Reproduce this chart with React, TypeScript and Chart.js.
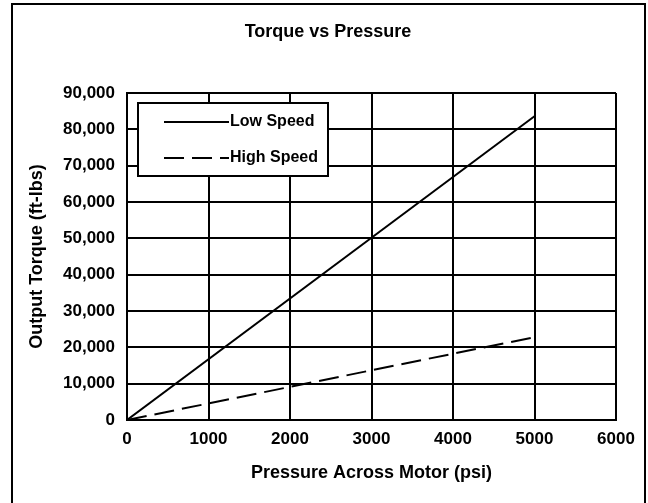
import React, { useEffect, useRef } from "react";
import { Chart, registerables } from "chart.js";

Chart.register(...registerables);

const chartTitle = "Torque vs Pressure";
const xAxisTitle = "Pressure Across Motor (psi)";
const yAxisTitle = "Output Torque (ft-lbs)";
const seriesNames = ["Low Speed", "High Speed"];
const pressurePsi = [0, 5000];
const lowSpeedTorque = [0, 83600];
const highSpeedTorque = [0, 22800];
const xTickMin = 0;
const xTickMax = 6000;
const xTickStep = 1000;
const yTickMin = 0;
const yTickMax = 90000;
const yTickStep = 10000;

const FONT_FAMILY = '"Liberation Sans", Arial, sans-serif';

const decorPlugin = {
  id: "decor",
  afterDraw(chart: any) {
    const ctx = chart.ctx as CanvasRenderingContext2D;
    const a = chart.chartArea;
    ctx.save();
    // outer frame
    ctx.strokeStyle = "#000";
    ctx.lineWidth = 2;
    ctx.setLineDash([]);
    ctx.strokeRect(12, 4, 633, 530);
    // title
    ctx.fillStyle = "#000";
    ctx.font = `bold 18px ${FONT_FAMILY}`;
    ctx.textAlign = "center";
    ctx.textBaseline = "middle";
    ctx.fillText(chartTitle, 328, 32);
    // legend box
    const bx = a.left + 11;
    const by = a.top + 10;
    const bw = 190;
    const bh = 73;
    ctx.fillStyle = "#fff";
    ctx.fillRect(bx, by, bw, bh);
    ctx.strokeStyle = "#000";
    ctx.lineWidth = 2;
    ctx.strokeRect(bx, by, bw, bh);
    chart.data.datasets.forEach((ds: any, i: number) => {
      const y = by + 19 + i * 36;
      ctx.beginPath();
      ctx.setLineDash(ds.borderDash || []);
      ctx.lineWidth = 2;
      ctx.moveTo(bx + 26, y);
      ctx.lineTo(bx + 91, y);
      ctx.stroke();
      ctx.setLineDash([]);
      ctx.fillStyle = "#000";
      ctx.font = `bold 16px ${FONT_FAMILY}`;
      ctx.textAlign = "left";
      ctx.textBaseline = "middle";
      ctx.fillText(ds.label, bx + 92, y);
    });
    ctx.restore();
  },
};

export default function App() {
  const canvasRef = useRef<HTMLCanvasElement | null>(null);

  useEffect(() => {
    document.body.style.margin = "0";
    const canvas = canvasRef.current;
    if (!canvas) return;
    const tickFont = { family: FONT_FAMILY, size: 17, weight: "bold" as const };
    const titleFont = { family: FONT_FAMILY, size: 18, weight: "bold" as const };
    const chart = new Chart(canvas, {
      type: "line",
      data: {
        datasets: [
          {
            label: seriesNames[0],
            data: pressurePsi.map((x, i) => ({ x, y: lowSpeedTorque[i] })),
            borderColor: "#000",
            backgroundColor: "#000",
            borderWidth: 2,
            pointRadius: 0,
            fill: false,
          },
          {
            label: seriesNames[1],
            data: pressurePsi.map((x, i) => ({ x, y: highSpeedTorque[i] })),
            borderColor: "#000",
            backgroundColor: "#000",
            borderWidth: 2,
            borderDash: [20, 8],
            pointRadius: 0,
            fill: false,
          },
        ],
      },
      options: {
        animation: false,
        responsive: false,
        layout: { padding: { left: 0, right: 32, top: 93, bottom: 0 } },
        plugins: {
          legend: { display: false },
          title: { display: false },
          tooltip: { enabled: false },
        },
        scales: {
          x: {
            type: "linear",
            min: xTickMin,
            max: xTickMax,
            ticks: {
              stepSize: xTickStep,
              color: "#000",
              font: tickFont,
              padding: 9,
              maxRotation: 0,
              callback: (v: any) => String(v),
            },
            grid: { color: "#000", lineWidth: 2, drawTicks: false },
            border: { color: "#000", width: 2 },
            title: {
              display: true,
              text: xAxisTitle,
              color: "#000",
              font: titleFont,
              padding: { top: 0, bottom: 19 },
            },
            afterFit(s: any) {
              s.height = 83;
            },
          },
          y: {
            type: "linear",
            min: yTickMin,
            max: yTickMax,
            ticks: {
              stepSize: yTickStep,
              color: "#000",
              font: tickFont,
              padding: 12,
              callback: (v: any) => Number(v).toLocaleString("en-US"),
            },
            grid: { color: "#000", lineWidth: 2, drawTicks: false },
            border: { color: "#000", width: 2 },
            title: {
              display: true,
              text: yAxisTitle,
              color: "#000",
              font: titleFont,
              padding: { top: 26, bottom: 0 },
            },
            afterFit(s: any) {
              s.width = 127;
            },
          },
        },
      },
      plugins: [decorPlugin],
    });
    return () => chart.destroy();
  }, []);

  return <canvas ref={canvasRef} width={648} height={503} style={{ display: "block" }} />;
}
